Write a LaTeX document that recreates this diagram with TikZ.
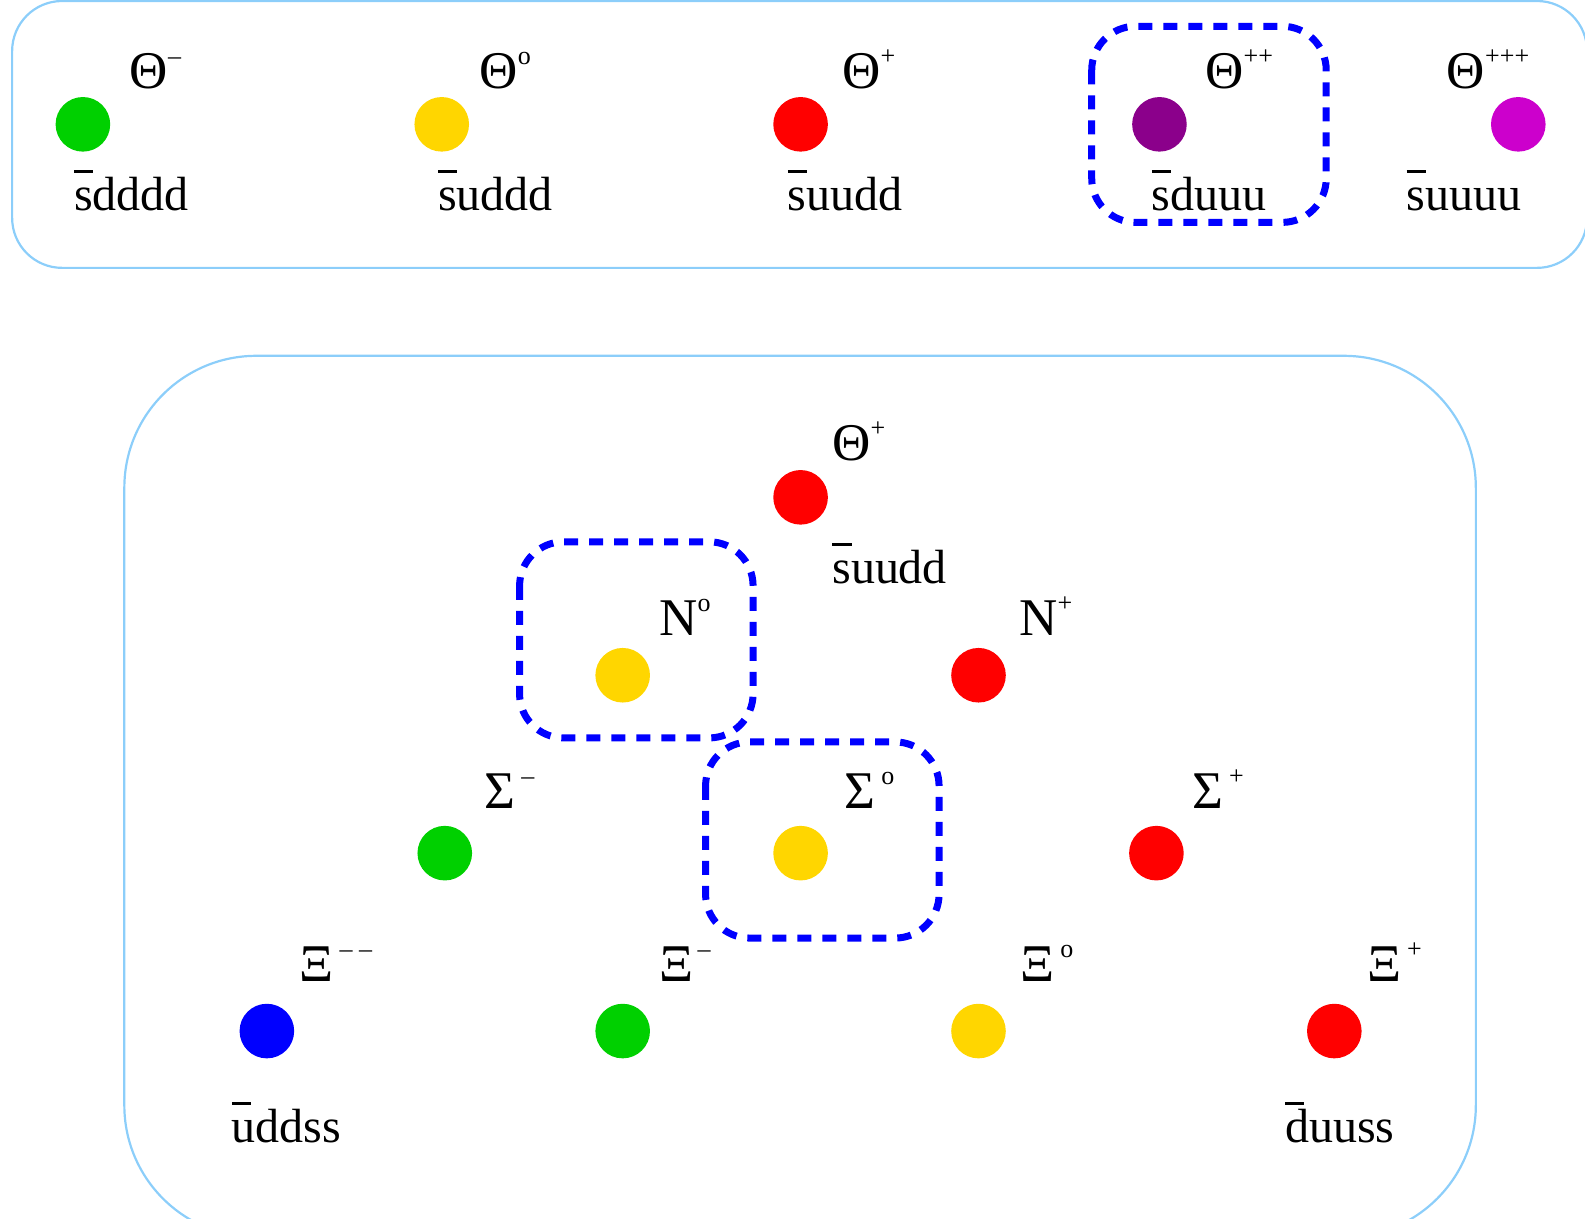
\documentclass[tikz,border=0pt]{standalone}
\usepackage{fontspec}
\setmainfont{Liberation Serif}
\definecolor{dgreen}{RGB}{0,208,0}
\definecolor{dyellow}{RGB}{255,214,0}
\definecolor{dred}{RGB}{255,0,0}
\definecolor{dpurple}{RGB}{139,0,139}
\definecolor{dmagenta}{RGB}{204,0,204}
\definecolor{dblue}{RGB}{0,0,255}
\definecolor{framecol}{RGB}{140,206,250}
\newcommand\qbar[1]{\leavevmode\rlap{\raisebox{0.78em}{\rule{0.4em}{0.055em}}}#1}
\newcommand\sups[1]{\raisebox{0.5em}{\fontsize{13}{13}\selectfont #1}}
\newcommand\gk[1]{{\fontsize{26.5}{28}\selectfont #1}}
\begin{document}
\begin{tikzpicture}[x=0.5055pt,y=-0.5055pt,
  dot/.style={circle,inner sep=0pt,minimum size=27.3pt,draw=none},
  lbl/.style={inner sep=0pt,anchor=base west,font=\fontsize{24}{28}\selectfont},
  frm/.style={draw=framecol,line width=1.1pt},
  grp/.style={draw=dblue,line width=3.5pt,dash pattern=on 7pt off 5.5pt,rounded corners=22pt}]
\useasboundingbox (0,0) rectangle (1568,1205);
\clip (0,0) rectangle (1568,1205);
% frames
\draw[frm,rounded corners=25pt] (12,1) rectangle (1570,265);
\draw[frm,rounded corners=66pt] (123,352) rectangle (1460,1224);
% dashed groups
\draw[grp] (1080,26) rectangle (1312,220);
\draw[grp] (514,536) rectangle (745,730);
\draw[grp] (698,734) rectangle (929,928);
% top row dots
\node[dot,fill=dgreen] (tm) at (82,123) {};
\node[dot,fill=dyellow] (t0) at (437,123) {};
\node[dot,fill=dred] (tp) at (792,123) {};
\node[dot,fill=dpurple] (tpp) at (1147,123) {};
\node[dot,fill=dmagenta] (tppp) at (1502,123) {};
% top row labels
\node[lbl] (ltm) at (128,88) {\gk{Θ}\sups{–}};
\node[lbl] (lt0) at (474,88) {\gk{Θ}\sups{o}};
\node[lbl] (ltp) at (833,88) {\gk{Θ}\sups{+}};
\node[lbl] (ltpp) at (1192,88) {\gk{Θ}\sups{++}};
\node[lbl] (ltppp) at (1431,88) {\gk{Θ}\sups{+++}};
\node[lbl] (qtm) at (73,208) {\qbar{s}dddd};
\node[lbl] (qt0) at (433,208) {\qbar{s}uddd};
\node[lbl] (qtp) at (779,208) {\qbar{s}uudd};
\node[lbl] (qtpp) at (1139,208) {\qbar{s}duuu};
\node[lbl] (qtppp) at (1391,208) {\qbar{s}uuuu};
% bottom dots
\node[dot,fill=dred] (bth) at (792,492) {};
\node[dot,fill=dyellow] (n0) at (616,668) {};
\node[dot,fill=dred] (np) at (968,668) {};
\node[dot,fill=dgreen] (sm) at (440,844) {};
\node[dot,fill=dyellow] (s0) at (792,844) {};
\node[dot,fill=dred] (sp) at (1144,844) {};
\node[dot,fill=dblue] (xmm) at (264,1020) {};
\node[dot,fill=dgreen] (xm) at (616,1020) {};
\node[dot,fill=dyellow] (x0) at (968,1020) {};
\node[dot,fill=dred] (xp) at (1320,1020) {};
% bottom labels
\node[lbl] (lbth) at (823,456) {\gk{Θ}\sups{+}};
\node[lbl] (qbth) at (823,577) {\qbar{s}uudd};
\node[lbl] (ln0) at (652,629) {\gk{N}\sups{o}};
\node[lbl] (lnp) at (1008,629) {\gk{N}\sups{+}};
\node[lbl] (lsm) at (479,800) {\gk{Σ}\kern3pt\sups{–}};
\node[lbl] (ls0) at (835,800) {\gk{Σ}\kern3pt\sups{o}};
\node[lbl] (lsp) at (1179,800) {\gk{Σ}\kern3pt\sups{+}};
\node[lbl] (lxmm) at (296,971) {\gk{Ξ}\kern3pt\sups{– –}};
\node[lbl] (lxm) at (652,971) {\gk{Ξ}\kern2pt\sups{–}};
\node[lbl] (lx0) at (1009,971) {\gk{Ξ}\kern3pt\sups{o}};
\node[lbl] (lxp) at (1352,971) {\gk{Ξ}\kern3pt\sups{+}};
\node[lbl] (qxmm) at (229,1130) {\qbar{u}ddss};
\node[lbl] (qxp) at (1271,1130) {\qbar{d}uuss};
\end{tikzpicture}
\end{document}
